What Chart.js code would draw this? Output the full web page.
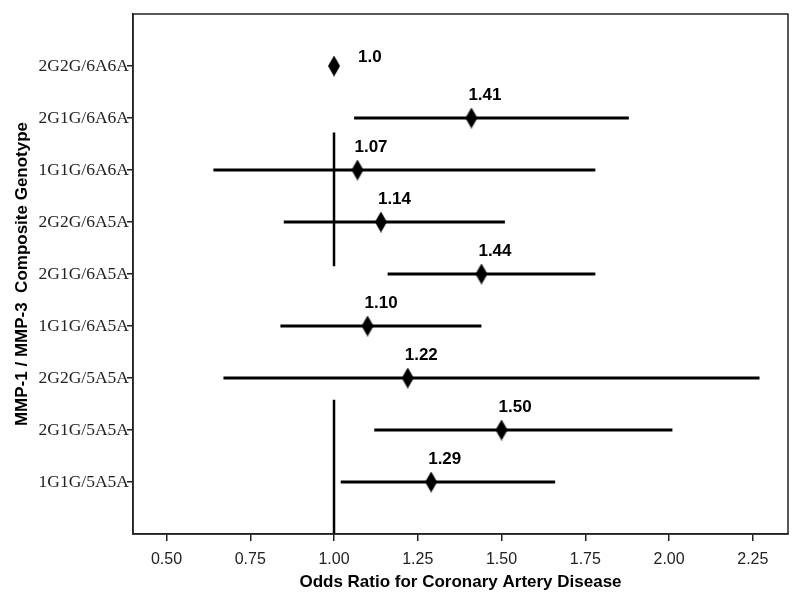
<!DOCTYPE html>
<html>
<head>
<meta charset="utf-8">
<script src="https://cdn.jsdelivr.net/npm/chart.js@4"></script>
<style>
  body { margin: 0; background: #fff; }
</style>
</head>
<body>
<canvas id="forest" width="800" height="605"></canvas>
<script>
/* datos del grafico */
const categories = ['2G2G/6A6A', '2G1G/6A6A', '1G1G/6A6A', '2G2G/6A5A', '2G1G/6A5A',
                    '1G1G/6A5A', '2G2G/5A5A', '2G1G/5A5A', '1G1G/5A5A'];
const oddsRatios = [1.0, 1.41, 1.07, 1.14, 1.44, 1.10, 1.22, 1.50, 1.29];
const ciLow  = [null, 1.06, 0.64, 0.85, 1.16, 0.84, 0.67, 1.12, 1.02];
const ciHigh = [null, 1.88, 1.78, 1.51, 1.78, 1.44, 2.27, 2.01, 1.66];
const orLabels = ['1.0', '1.41', '1.07', '1.14', '1.44', '1.10', '1.22', '1.50', '1.29'];
const xTicks = [0.50, 0.75, 1.00, 1.25, 1.50, 1.75, 2.00, 2.25];
const refLineX = 1.0;
const refSegments = [[2.28, 4.85], [7.42, 10]]; /* tramos de la linea de referencia (en posiciones de categoria) */

/* rombo alto como pointStyle */
const diamond = document.createElement('canvas');
diamond.width = 12;
diamond.height = 21;
const dctx = diamond.getContext('2d');
dctx.fillStyle = '#000';
dctx.beginPath();
dctx.moveTo(6, 0);
dctx.lineTo(12, 10.5);
dctx.lineTo(6, 21);
dctx.lineTo(0, 10.5);
dctx.closePath();
dctx.fill();

/* puntos y segmentos construidos desde los arreglos */
const pointData = oddsRatios.map((v, i) => ({ x: v, y: i + 1 }));
const ciData = [];
categories.forEach((c, i) => {
    if (ciLow[i] == null) return;
    ciData.push({ x: ciLow[i], y: i + 1 });
    ciData.push({ x: ciHigh[i], y: i + 1 });
    ciData.push({ x: null, y: null });
});
const refData = [];
refSegments.forEach(s => {
    refData.push({ x: refLineX, y: s[0] });
    refData.push({ x: refLineX, y: s[1] });
    refData.push({ x: null, y: null });
});

/* marco del area + etiquetas de valores */
const framePlugin = {
    id: 'frame',
    afterDraw(chart) {
        const { ctx, chartArea: a } = chart;
        ctx.save();
        ctx.strokeStyle = '#222';
        ctx.lineWidth = 1.5;
        ctx.strokeRect(a.left, a.top, a.right - a.left, a.bottom - a.top);

        const meta = chart.getDatasetMeta(2);
        ctx.fillStyle = '#000';
        ctx.font = 'bold 17px "Liberation Sans", Arial, sans-serif';
        ctx.textAlign = 'left';
        ctx.textBaseline = 'alphabetic';
        meta.data.forEach((pt, i) => {
            if (i === 0) {
                ctx.fillText(orLabels[i], pt.x + 24, pt.y - 4);
            } else {
                ctx.fillText(orLabels[i], pt.x - 3, pt.y - 18);
            }
        });
        ctx.restore();
    }
};

const config = {
    type: 'line',
    data: {
        datasets: [
            {
                data: refData,
                borderColor: '#000',
                borderWidth: 2.5,
                pointRadius: 0,
                spanGaps: false
            },
            {
                data: ciData,
                borderColor: '#000',
                borderWidth: 3,
                pointRadius: 0,
                spanGaps: false
            },
            {
                data: pointData,
                showLine: false,
                pointStyle: diamond,
                pointRadius: 10
            }
        ]
    },
    options: {
        responsive: false,
        animation: false,
        layout: { padding: { top: 14, right: 12, left: 0, bottom: 0 } },
        plugins: { legend: { display: false }, tooltip: { enabled: false } },
        scales: {
            x: {
                type: 'linear',
                min: 0.4,
                max: 2.355,
                afterBuildTicks: (scale) => { scale.ticks = xTicks.map(v => ({ value: v })); },
                afterFit: (scale) => { scale.height = 71; },
                ticks: {
                    callback: (v) => Number(v).toFixed(2),
                    color: '#222',
                    padding: 9,
                    font: { family: '"Liberation Sans", Arial, sans-serif', size: 16 }
                },
                grid: { drawOnChartArea: false, tickLength: 7, color: '#222', lineWidth: 1.5 },
                border: { display: true, color: '#222', width: 1.5 },
                title: {
                    display: true,
                    text: 'Odds Ratio for Coronary Artery Disease',
                    color: '#000',
                    font: { family: '"Liberation Sans", Arial, sans-serif', size: 17, weight: 'bold' },
                    padding: { top: 0, bottom: 12 }
                }
            },
            y: {
                type: 'linear',
                reverse: true,
                min: 0,
                max: 10,
                afterBuildTicks: (scale) => { scale.ticks = categories.map((c, i) => ({ value: i + 1 })); },
                afterFit: (scale) => { scale.width = 133; },
                ticks: {
                    callback: (v) => categories[v - 1],
                    color: '#222',
                    padding: -2,
                    font: { family: '"Liberation Serif", "Times New Roman", serif', size: 17.5 }
                },
                grid: { drawOnChartArea: false, tickLength: 6, color: '#222', lineWidth: 1.5 },
                border: { display: true, color: '#222', width: 1.5 },
                title: {
                    display: true,
                    text: 'MMP-1 / MMP-3  Composite Genotype',
                    color: '#000',
                    font: { family: '"Liberation Sans", Arial, sans-serif', size: 17, weight: 'bold' },
                    padding: { top: 12, bottom: 0 }
                }
            }
        }
    },
    plugins: [framePlugin]
};

const chart = new Chart(document.getElementById('forest'), config);
</script>
</body>
</html>
